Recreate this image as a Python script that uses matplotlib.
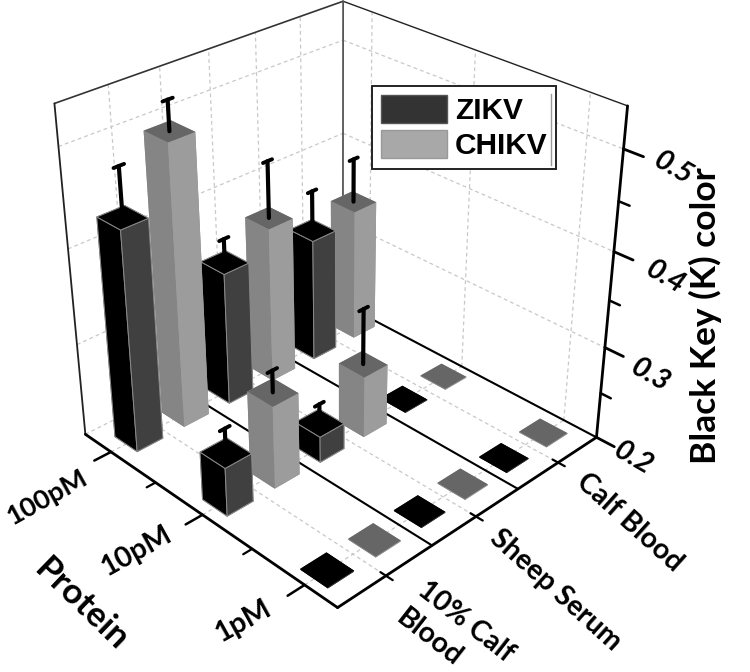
import numpy as np
import matplotlib
matplotlib.use('Agg')
import matplotlib.pyplot as plt
from matplotlib.patches import Patch
from matplotlib.lines import Line2D

# ---- data -------------------------------------------------------------
proteins = ['100pM', '10pM', '1pM']
media = ['10% Calf\nBlood', 'Sheep Serum', 'Calf Blood']
series = ['ZIKV', 'CHIKV']
# values per [protein][medium]
zikv = [[0.434, 0.344, 0.335],
        [0.252, 0.228, 0.201],
        [0.201, 0.201, 0.201]]
chikv = [[0.498, 0.370, 0.346],
         [0.289, 0.267, 0.201],
         [0.201, 0.201, 0.201]]
zikv_err = [[0.050, 0.025, 0.043],
            [0.026, 0.021, 0.0],
            [0.0, 0.0, 0.0]]
chikv_err = [[0.030, 0.060, 0.047],
             [0.023, 0.060, 0.0],
             [0.0, 0.0, 0.0]]
z_major = [0.2, 0.3, 0.4, 0.5]
z_minor = [0.25, 0.35, 0.45]
z_labels = ['0.2', '0.3', '0.4', '0.5']

# ---- style / layout ---------------------------------------------------
W, H = 750, 672
XLIM = (-0.3, 2.3)
YLIM = (0.0, 3.0)
ZLIM = (0.2, 0.54)
BW_X, BW_Y = 0.255, 0.27
ROW_SHIFT = [0.04, 0.01, -0.02]
GRID = dict(color='#c8c8c8', lw=0.9, ls=(0, (3, 2.5)), zorder=1)
LABEL = ['Lato', 'DejaVu Sans']

fig = plt.figure(figsize=(W/100, H/100), dpi=100, facecolor='white')
s, tx, ty = 3472.88, 340.57, 279.71
S = s*0.185
ax = fig.add_axes([(tx-0.095*s)/W, (H-ty-0.095*s)/H, S/W, S/H], projection='3d')
ax.computed_zorder = False
ax.set_proj_type('persp', focal_length=0.4843)
ax.view_init(elev=30.252, azim=-44.417)
ax.set_box_aspect((1, 1, 1))
ax.set_xlim(*XLIM, view_margin=0)
ax.set_ylim(*YLIM, view_margin=0)
ax.set_zlim(*ZLIM, view_margin=0)
ax.set_axis_off()
ax.patch.set_alpha(0)

x0, x1 = XLIM; y0, y1 = YLIM; z0, z1 = ZLIM

def line(xs, ys, zs, **kw):
    ln, = ax.plot(xs, ys, zs, solid_capstyle='round', **kw)
    ln.set_clip_on(False)
    return ln

# grid on walls
for z in z_major[1:]:
    line([x0, x0], [y0, y1], [z, z], **GRID)
    line([x0, x1], [y1, y1], [z, z], **GRID)
for y in [0.5, 1.0, 1.5, 2.0, 2.5]:
    line([x0, x0], [y, y], [z0, z1], **GRID)
for x in range(3):
    line([x, x], [y1, y1], [z0, z1], **GRID)
# grid on floor
for x in [x0, 0, 1, 2]:
    line([x, x], [y0, y1], [z0, z0], **GRID)
for y in [0.5, 1.5, 2.5]:
    line([x0, x1], [y, y], [z0, z0], **GRID)
for y in [1, 2, 3]:
    line([x0, x1], [y, y], [z0, z0], color='black', lw=1.5, zorder=1.5)

# box frame
line([x0, x0], [y0, y1], [z1, z1], color='#333333', lw=1.2, zorder=2)
line([x0, x1], [y1, y1], [z1, z1], color='#222222', lw=1.0, zorder=2)
line([x0, x0], [y1, y1], [z0, z1], color='#555555', lw=1.3, zorder=2)
line([x0, x0], [y0, y0], [z0, z1], color='#222222', lw=1.3, zorder=2)

# bars, painted from back to front
items = []
for i in range(3):
    for j in range(3):
        items.append((i, j + 0.25 + ROW_SHIFT[i], zikv[i][j], zikv_err[i][j], 0))
        items.append((i, j + 0.75 + ROW_SHIFT[i], chikv[i][j], chikv_err[i][j], 1))
items.sort(key=lambda t: t[0] - t[1])
ZK = ['#000000', '#000000', '#000000', '#000000', '#404040', '#404040']
CH = ['#808080', '#666666', '#858585', '#858585', '#9c9c9c', '#9c9c9c']
for k, (x, y, v, e, sid) in enumerate(items):
    zo = 10 + k
    c = ax.bar3d(x - BW_X/2, y - BW_Y/2, z0, BW_X, BW_Y, v - z0,
                 color=ZK if sid == 0 else CH, shade=False,
                 edgecolor=('#8a8a8a' if (sid == 0 and v > 0.21) else 'none'),
                 linewidth=0.7)
    c.set_zorder(zo)
    c.set_clip_on(False)
    if e > 0:
        line([x, x], [y, y], [v, v + e], color='black', lw=3.0, zorder=zo + 0.5)
        line([x, x], [y - 0.05, y + 0.05], [v + e, v + e], color='black', lw=2.8, zorder=zo + 0.5)

# axes lines
AX = dict(color='black', lw=2.0, zorder=60)
line([x0, x1], [y0, y0], [z0, z0], **AX)
line([x1, x1], [y0, y1], [z0, z0], **AX)
line([x1, x1], [y1, y1], [z0, z1], **AX)
for z in z_major:
    line([x1, x1 + 0.16], [y1, y1], [z, z], **AX)
for z in z_minor:
    line([x1, x1 + 0.09], [y1, y1], [z, z], color='black', lw=1.8, zorder=60)
for x in range(3):
    line([x, x], [y0, y0 - 0.17], [z0, z0], color='black', lw=1.8, zorder=60)
for x in [0.5, 1.5]:
    line([x, x], [y0, y0 - 0.09], [z0, z0], color='black', lw=1.6, zorder=60)
for y in [0.5, 1.5, 2.5]:
    line([x1 - 0.05, x1 + 0.06], [y, y], [z0, z0], color='black', lw=1.6, zorder=60)

def ptext(px, py, t, size, rot, **kw):
    fig.text(px/W, 1 - py/H, t, fontsize=size, rotation=rot, ha='center', va='center',
             rotation_mode='anchor', family=LABEL, fontweight='bold', **kw)

for (px, py), t, sz in zip([(47, 497), (136, 551), (243, 621)], proteins, [19.5, 20.5, 20.5]):
    ptext(px, py, t, sz, 29)
ptext(81, 604, 'Protein', 25.5, -44)
ptext(630, 522, media[2], 20.5, -42)
ptext(556, 590, media[1], 20.5, -42)
first, second = media[0].split('\n')
ptext(466, 622, first, 20.5, -38)
ptext(429, 638, second, 20.5, -38)
for (px, py), t in zip([(633, 458), (650, 375), (665, 277), (673, 168)], z_labels):
    ptext(px, py, t, 21, -30, fontstyle='italic')
ptext(705, 316, 'Black Key (K) color', 25.5, 90)

# legend
handles = [Patch(facecolor='#333333', edgecolor='#555555', label=series[0]),
           Patch(facecolor='#a8a8a8', edgecolor='#999999', label=series[1])]
leg = fig.legend(handles=handles, loc='upper left', bbox_to_anchor=(372/W, 1 - 86/H),
                 bbox_transform=fig.transFigure, borderaxespad=0,
                 frameon=True, fancybox=False, framealpha=1, edgecolor='#222222',
                 prop=dict(family='Liberation Sans', weight='bold', size=21.5),
                 handlelength=2.2, handleheight=1.05, handletextpad=0.27,
                 labelspacing=0.17, borderpad=0.3)
leg.get_frame().set_linewidth(1.4)
leg.set_zorder(100)
fig.add_artist(Line2D([551/W, 551/W], [1 - 94/H, 1 - 165/H], color='#999999', lw=1.0, zorder=101))

fig.savefig('out.png', dpi=100, facecolor='white')
